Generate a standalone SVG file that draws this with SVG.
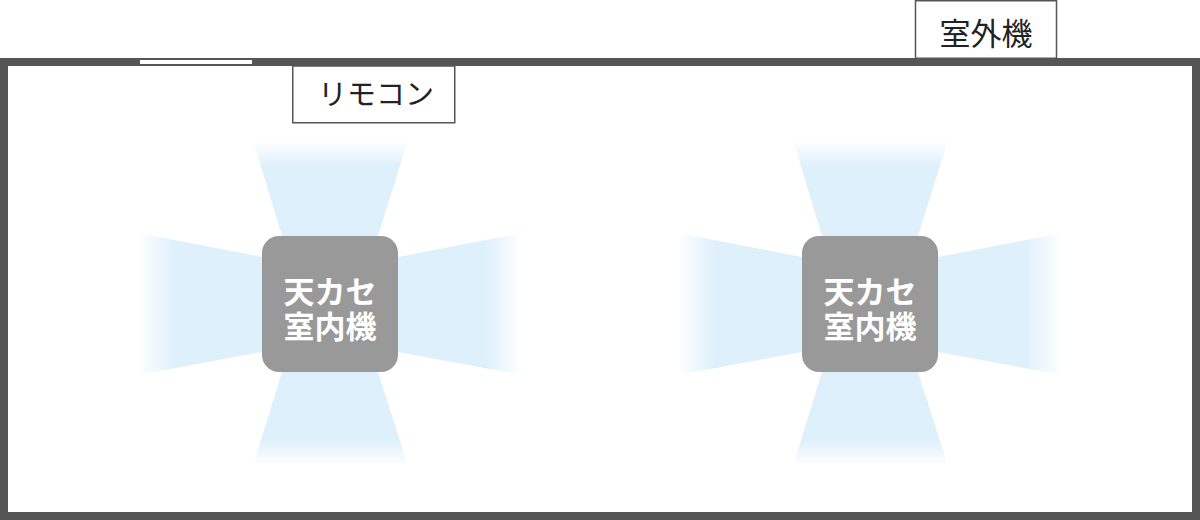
<svg xmlns="http://www.w3.org/2000/svg" width="1200" height="520" viewBox="0 0 1200 520">
<style>
.wall{fill:#fff;stroke:#555;stroke-width:8}
.lbl{fill:#fff;stroke:#555;stroke-width:1.5}
.lt{font-family:"Noto Sans CJK JP","Noto Sans",sans-serif;fill:#222;text-anchor:middle}
.unit{fill:#999}
.ut{font-family:"Noto Sans CJK JP","Noto Sans",sans-serif;font-size:31px;font-weight:bold;fill:#fff;text-anchor:middle}
</style>
<defs>
<linearGradient id="gU" x1="0" y1="0" x2="0" y2="1"><stop offset="0" stop-color="#def0fb" stop-opacity="0"/><stop offset="0.28" stop-color="#def0fb"/><stop offset="1" stop-color="#def0fb"/></linearGradient>
<linearGradient id="gD" x1="0" y1="1" x2="0" y2="0"><stop offset="0" stop-color="#def0fb" stop-opacity="0"/><stop offset="0.28" stop-color="#def0fb"/><stop offset="1" stop-color="#def0fb"/></linearGradient>
<linearGradient id="gL" x1="0" y1="0" x2="1" y2="0"><stop offset="0" stop-color="#def0fb" stop-opacity="0"/><stop offset="0.3" stop-color="#def0fb"/><stop offset="1" stop-color="#def0fb"/></linearGradient>
<linearGradient id="gR" x1="1" y1="0" x2="0" y2="0"><stop offset="0" stop-color="#def0fb" stop-opacity="0"/><stop offset="0.3" stop-color="#def0fb"/><stop offset="1" stop-color="#def0fb"/></linearGradient>
<g id="beams">
<polygon points="-77,-164 78,-164 48,-68 -48,-68" fill="url(#gU)"/>
<polygon points="-77,162 78,162 48,68 -48,68" fill="url(#gD)"/>
<polygon points="-192,-71 -68,-47 -68,48 -192,71" fill="url(#gL)"/>
<polygon points="192,-71 68,-47 68,48 192,71" fill="url(#gR)"/>
</g>
</defs>
<rect class="wall" x="4" y="62" width="1192" height="454"/>
<rect x="140" y="60" width="112" height="4" fill="#fff"/>
<g id="outdoor">
<rect class="lbl" x="915.5" y="0.75" width="141" height="57.5"/>
<text class="lt" x="986" y="45" font-size="31">室外機</text>
</g>
<g id="remote">
<rect class="lbl" x="292.75" y="66" width="162" height="56.75"/>
<text class="lt" x="376" y="105" font-size="29">リモコン</text>
</g>
<g id="unit1" transform="translate(330,304)">
<use href="#beams"/>
<rect class="unit" x="-68" y="-68" width="136" height="136" rx="17"/>
<text class="ut" x="0" y="-1">天カセ</text>
<text class="ut" x="0" y="34">室内機</text>
</g>
<g id="unit2" transform="translate(870,304)">
<use href="#beams"/>
<rect class="unit" x="-68" y="-68" width="136" height="136" rx="17"/>
<text class="ut" x="0" y="-1">天カセ</text>
<text class="ut" x="0" y="34">室内機</text>
</g>
<g id="connectors"/>
</svg>
